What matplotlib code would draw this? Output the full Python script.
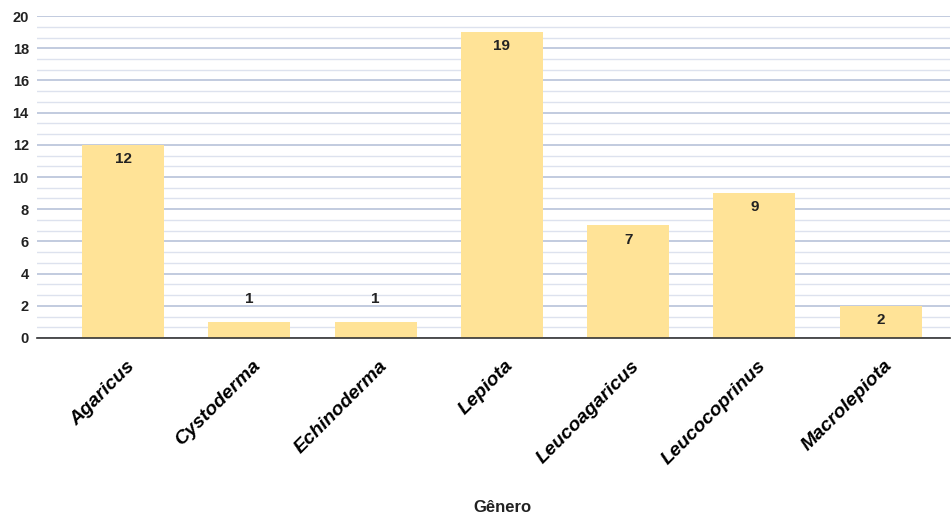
import numpy as np
import matplotlib
matplotlib.use('Agg')
import matplotlib.pyplot as plt
import matplotlib.transforms as mtrans

# data
generos = ['Agaricus', 'Cystoderma', 'Echinoderma', 'Lepiota',
           'Leucoagaricus', 'Leucocoprinus', 'Macrolepiota']
contagem = [12, 1, 1, 19, 7, 9, 2]
y_ticks = [0, 2, 4, 6, 8, 10, 12, 14, 16, 18, 20]

plt.rcParams['font.family'] = ['Liberation Sans', 'DejaVu Sans']

fig = plt.figure(figsize=(9.53, 5.18), dpi=100)
ax = fig.add_axes([0.039, 0.3475, 0.958, 0.6215])

x = np.arange(len(generos))
bars = ax.bar(x, contagem, width=0.65, color='#FFE397', zorder=3)

# gridlines: major every 2, two minor lines between
ax.set_ylim(0, 20)
ax.set_yticks(y_ticks)
ax.set_yticks(np.arange(0, 20.01, 2 / 3), minor=True)
ax.grid(axis='y', which='major', color='#b8c2d9', linewidth=1.2, zorder=0)
ax.grid(axis='y', which='minor', color='#dde2ee', linewidth=1.0, zorder=0)
ax.set_xlim(-0.68, 6.55)

for s in ['top', 'right', 'left']:
    ax.spines[s].set_visible(False)
ax.spines['bottom'].set_color('#333333')
ax.spines['bottom'].set_linewidth(1.2)
ax.spines['bottom'].set_zorder(4)

ax.tick_params(axis='both', which='both', length=0)
ax.tick_params(axis='y', pad=6, labelsize=10.5, labelcolor='#222222')
for lab in ax.get_yticklabels():
    lab.set_fontweight('bold')

ax.set_xticks(x)
ax.set_xticklabels(generos, rotation=45, ha='right', rotation_mode='anchor',
                   fontsize=14, fontweight='bold', fontstyle='italic')
ax.tick_params(axis='x', pad=14)
# nudge labels slightly right
offset = mtrans.ScaledTranslation(0.03, 0, fig.dpi_scale_trans)
for lab in ax.get_xticklabels():
    lab.set_transform(lab.get_transform() + offset)

# value labels
for xi, v in zip(x, contagem):
    if v >= 2:
        ax.text(xi, v - 0.45, str(v), ha='center', va='top', fontsize=11,
                fontweight='bold', color='#222222', zorder=5)
    else:
        ax.text(xi, v + 1.0, str(v), ha='center', va='bottom', fontsize=11,
                fontweight='bold', color='#222222', zorder=5)

fig.text(0.527, 0.005, 'Gênero', ha='center', va='bottom', fontsize=12,
         fontweight='bold', color='#222222')

fig.savefig('out.png', dpi=100)
